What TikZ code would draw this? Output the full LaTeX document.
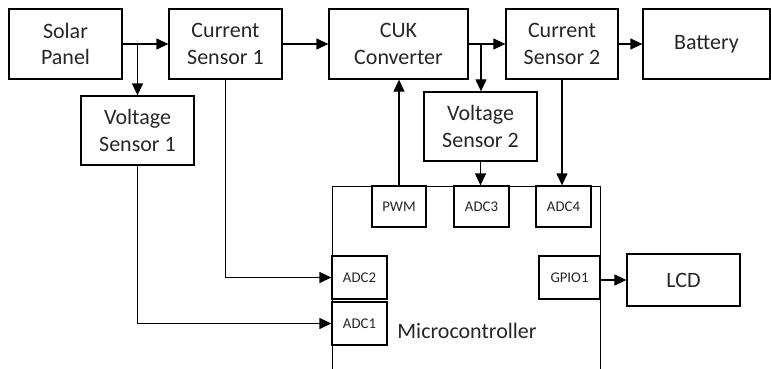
\documentclass[tikz,border=0pt]{standalone}
\usepackage{fontspec}
\setmainfont{Carlito}
\usetikzlibrary{arrows.meta,positioning}

\begin{document}
\begin{tikzpicture}[
    x=1pt,y=-1pt,line width=1.3pt,
    box/.style={draw,minimum height=70pt,align=center,inner sep=2pt,
      text=black!85,font=\fontsize{22}{26.5}\selectfont},
    port/.style={draw,minimum height=43pt,inner sep=2pt,
      text=black!85,font=\fontsize{14.8}{17}\selectfont},
    arrow/.style={-{Triangle[length=12pt,width=11pt]}}
  ]
    \clip (0,0) rectangle (771,369);
    % top row
    \node[box,minimum width=113pt] (solar) at (65.5,44) {Solar\\Panel};
    \node[box,minimum width=113pt] (cs1) at (225.5,44) {Current\\Sensor 1};
    \node[box,minimum width=139pt] (cuk) at (398.5,44) {CUK\\Converter};
    \node[box,minimum width=112pt] (cs2) at (562,44) {Current\\Sensor 2};
    \node[box,minimum width=127pt] (battery) at (706.5,44) {Battery};
    \node[box,minimum width=113pt,minimum height=69pt] (vs1) at (137.5,130.5) {Voltage\\Sensor 1};
    \node[box,minimum width=113pt,minimum height=69pt] (vs2) at (480.5,126.5) {Voltage\\Sensor 2};
    % microcontroller and its pins
    \node[draw,minimum width=268pt,minimum height=240pt,anchor=north west] (mcu) at (332,186) {};
    \node[box,draw=none,anchor=base] (mcutext) at (467,338) {Microcontroller};
    \node[port,minimum width=54pt,minimum height=41pt] (pwm) at (399,206.5) {PWM};
    \node[port,minimum width=55pt,minimum height=41pt] (adc3) at (481.5,206.5) {ADC3};
    \node[port,minimum width=55pt,minimum height=41pt] (adc4) at (563.5,206.5) {ADC4};
    \node[port,minimum width=55pt] (adc2) at (359.5,277.5) {ADC2};
    \node[port,minimum width=55pt] (adc1) at (359.5,323.5) {ADC1};
    \node[port,minimum width=61pt] (gpio1) at (569.5,277.5) {GPIO1};
    \node[box,minimum width=113pt,minimum height=52pt] (lcd) at (683.5,280) {LCD};
    % connections
    \coordinate (j1) at (137.5,44);
    \coordinate (j2) at (481,44);
    \draw[arrow] (solar) -- (cs1);
    \draw[arrow] (j1) -- (vs1);
    \draw[arrow] (cs1) -- (cuk);
    \draw[arrow] (cuk) -- (cs2);
    \draw[arrow] (j2) -- (j2 |- vs2.north);
    \draw[arrow] (cs2) -- (battery);
    \draw[arrow] (cs2) -- (cs2 |- adc4.north);
    \draw[arrow] (vs2) -- (vs2 |- adc3.north);
    \draw[arrow] (pwm.north) -- (pwm.north |- cuk.south);
    \draw[arrow] (cs1) |- (adc2);
    \draw[arrow] (vs1) |- (adc1);
    \draw[arrow] (gpio1.east |- lcd) -- (lcd);
  \end{tikzpicture}
\end{document}
